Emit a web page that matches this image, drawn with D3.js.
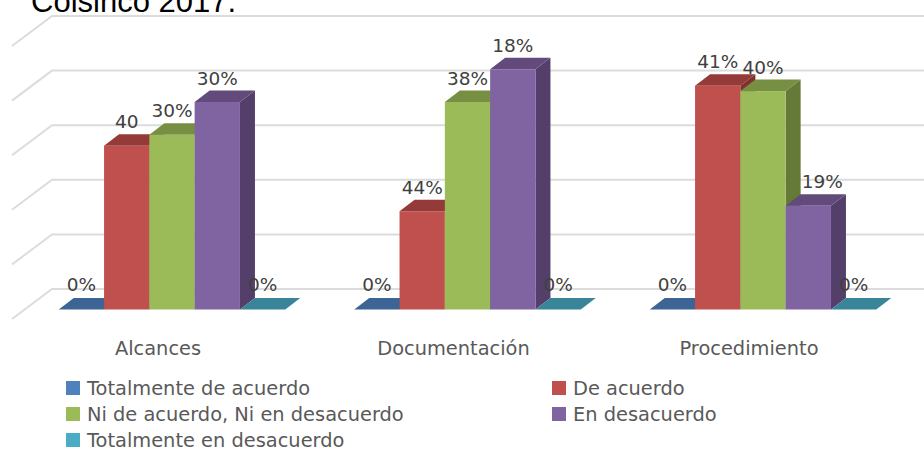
<!DOCTYPE html>
<html>
<head>
<meta charset="utf-8">
<script src="https://cdnjs.cloudflare.com/ajax/libs/d3/7.8.5/d3.min.js"></script>
<style>
  html, body { margin: 0; padding: 0; background: #fff; overflow: hidden; }
  text { font-family: "DejaVu Sans", sans-serif; }
</style>
</head>
<body>
<div id="chart"></div>
<script>
/** Chart data */
var categories = ["Alcances", "Documentación", "Procedimiento"];
var seriesNames = ["Totalmente de acuerdo", "De acuerdo", "Ni de acuerdo, Ni en desacuerdo", "En desacuerdo", "Totalmente en desacuerdo"];

// bar heights (the printed labels do not follow them, same as in the original)
var totalAcuerdo = [0, 0, 0];
var deAcuerdo = [0.30, 0.18, 0.41];
var niNi = [0.32, 0.38, 0.40];
var enDesacuerdo = [0.38, 0.44, 0.19];
var totalDesacuerdo = [0, 0, 0];
var seriesValues = [totalAcuerdo, deAcuerdo, niNi, enDesacuerdo, totalDesacuerdo];

var labelTotalAcuerdo = ["0%", "0%", "0%"];
var labelDeAcuerdo = ["40", "44%", "41%"];
var labelNiNi = ["30%", "38%", "40%"];
var labelEnDesacuerdo = ["30%", "18%", "19%"];
var labelTotalDesacuerdo = ["0%", "0%", "0%"];
var seriesLabels = [labelTotalAcuerdo, labelDeAcuerdo, labelNiNi, labelEnDesacuerdo, labelTotalDesacuerdo];

var frontColors = ["#4f81bd", "#c0504d", "#9bbb59", "#8064a2", "#4bacc6"];
var topColors = ["#3c6494", "#943a38", "#778f42", "#624b7c", "#388599"];
var sideColors = ["#335580", "#7f3130", "#667a38", "#533f6a", "#307283"];

var width = 924;
var height = 450;
var depthX = 15;
var depthY = 11.5;

var svg = d3.select("#chart")
  .append("svg")
    .attr("width", width)
    .attr("height", height);

// SCALES //

var x0 = d3.scaleBand()
  .domain(categories)
  .range([24.25, 910.75])
  .paddingInner(0.2335)
  .paddingOuter(0.11675);

var x1 = d3.scaleBand()
  .domain(d3.range(seriesNames.length))
  .range([0, x0.bandwidth()]);

// y on the back wall and y on the plane the bars stand in
var yBack = d3.scaleLinear().domain([0, 0.5]).range([289, 16]);
var yBar = d3.scaleLinear().domain([0, 0.5]).range([309.5, 36.5]);

// GRID //

var grid = svg.append("g")
  .attr("fill", "none")
  .attr("stroke", "#dcdcdc")
  .attr("stroke-width", 2);

yBack.ticks(5).forEach(function(t) {
  grid.append("path")
    .attr("d", d3.line()([[12, yBack(t) + 30], [52, yBack(t)], [width, yBack(t)]]));
});

// TITLE (cut by the top edge in the original) //

svg.append("text")
  .attr("x", 31)
  .attr("y", 12)
  .attr("fill", "#000")
  .style("font-family", "'Liberation Sans', Arial, sans-serif")
  .style("font-size", "31px")
  .text("Colsinco 2017.");

// BARS //

var bars = svg.append("g");
var labels = svg.append("g")
  .attr("text-anchor", "middle")
  .attr("fill", "#404040")
  .style("font-size", "18.5px");

categories.forEach(function(cat, c) {
  seriesNames.forEach(function(name, s) {
    var v = seriesValues[s][c];
    var left = x0(cat) + x1(s);
    var right = left + x1.bandwidth();
    var top = yBar(v);
    var base = yBar(0);
    var g = bars.append("g");

    if (v > 0) {
      g.append("path")
        .attr("fill", sideColors[s])
        .attr("d", d3.line()([[right, top], [right + depthX, top - depthY], [right + depthX, base - depthY], [right, base]]) + "Z");
    }
    g.append("path")
      .attr("fill", topColors[s])
      .attr("d", d3.line()([[left, top], [left + depthX, top - depthY], [right + depthX, top - depthY], [right, top]]) + "Z");
    if (v > 0) {
      g.append("rect")
        .attr("x", left)
        .attr("y", top)
        .attr("width", x1.bandwidth())
        .attr("height", base - top)
        .attr("fill", frontColors[s]);
    }

    var label = seriesLabels[s][c];
    labels.append("text")
      .attr("x", left + x1.bandwidth() / 2 + (label === "19%" ? 14 : 0))
      .attr("y", top - depthY - (v > 0 ? 6 : 7))
      .text(label);
  });
});

// AXIS //

var axis = svg.append("g")
  .attr("transform", "translate(-14,336)")
  .call(d3.axisBottom(x0).tickSize(0).tickPadding(0));
axis.select(".domain").remove();
axis.selectAll("text")
  .attr("fill", "#595959")
  .attr("dy", "1em")
  .style("font-family", "'DejaVu Sans', sans-serif")
  .style("font-size", "19.4px");

// LEGEND //

var legendX = d3.scalePoint().domain([0, 1]).range([66, 552]);
var legendY = d3.scalePoint().domain([0, 1, 2]).range([381, 433]);

var legend = svg.append("g");
seriesNames.forEach(function(name, i) {
  var col = i % 2;
  var row = Math.floor(i / 2);
  legend.append("rect")
    .attr("x", legendX(col))
    .attr("y", legendY(row))
    .attr("width", 14)
    .attr("height", 14)
    .attr("fill", frontColors[i]);
  legend.append("text")
    .attr("x", legendX(col) + 21)
    .attr("y", legendY(row) + 14)
    .attr("fill", "#595959")
    .style("font-size", "19.4px")
    .text(name);
});
</script>
</body>
</html>
